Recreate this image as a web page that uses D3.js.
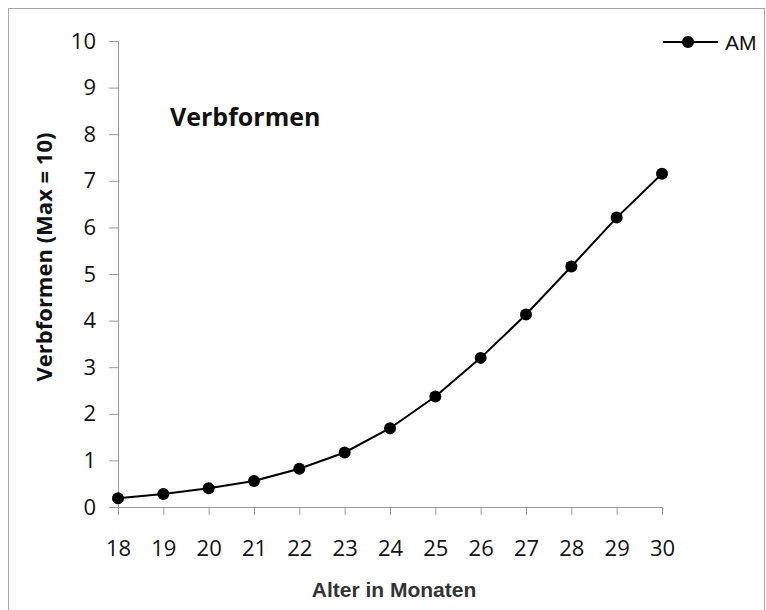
<!DOCTYPE html>
<html>
<head>
<meta charset="utf-8">
<script src="https://cdn.jsdelivr.net/npm/d3@7"></script>
<style>
  body { margin: 0; background: #fff; }
  svg { display: block; }
</style>
</head>
<body>
<svg id="chart" width="766" height="610"></svg>
<script>
const months = [18, 19, 20, 21, 22, 23, 24, 25, 26, 27, 28, 29, 30]
const amValues = [0.19, 0.28, 0.40, 0.56, 0.82, 1.17, 1.69, 2.37, 3.20, 4.13, 5.16, 6.21, 7.15]
const yTicks = [0, 1, 2, 3, 4, 5, 6, 7, 8, 9, 10]
const seriesName = 'AM'

const margin = { left: 118, top: 41, right: 104, bottom: 103 }
const width = 766
const height = 610

const svg = d3.select('#chart')

// outer chart frame
svg.append('rect')
  .attr('x', 8.5).attr('y', 8.5)
  .attr('width', 756).attr('height', 640)
  .attr('fill', 'none')
  .attr('stroke', '#a6a6a6')

const x = d3.scaleLinear()
  .domain([18, 30])
  .range([margin.left, width - margin.right])

const y = d3.scaleLinear()
  .domain([0, 10])
  .range([height - margin.bottom, margin.top])

const yAxis = svg.append('g')
  .attr('transform', `translate(${margin.left},0)`)
  .call(d3.axisLeft(y).tickValues(yTicks).tickSize(9).tickPadding(13))
yAxis.select('.domain').attr('stroke', '#999')
yAxis.selectAll('.tick line').attr('stroke', '#999')
yAxis.selectAll('.tick text')
  .attr('font-family', '"Open Sans", sans-serif')
  .attr('font-size', 22)
  .attr('fill', '#111')

const xAxis = svg.append('g')
  .attr('transform', `translate(0,${y(0)})`)
  .call(d3.axisBottom(x).tickValues(months).tickSize(8).tickSizeOuter(0).tickPadding(25))
xAxis.select('.domain').attr('stroke', '#999')
xAxis.selectAll('.tick line').attr('stroke', '#999')
xAxis.selectAll('.tick text')
  .attr('font-family', '"Open Sans", sans-serif')
  .attr('font-size', 22)
  .attr('fill', '#111')

const line = d3.line()
  .x((d, i) => x(months[i]))
  .y((d) => y(d))

svg.append('path')
  .datum(amValues)
  .attr('d', line)
  .attr('fill', 'none')
  .attr('stroke', '#000')
  .attr('stroke-width', 2)

svg.selectAll('circle.pt')
  .data(amValues)
  .enter()
  .append('circle')
  .attr('class', 'pt')
  .attr('cx', (d, i) => x(months[i]))
  .attr('cy', (d) => y(d))
  .attr('r', 6)
  .attr('fill', '#000')

// titles
svg.append('text')
  .attr('x', 170).attr('y', 126)
  .attr('font-family', '"Open Sans", sans-serif')
  .attr('font-weight', 'bold')
  .attr('font-size', 25)
  .attr('fill', '#111')
  .text('Verbformen')

svg.append('text')
  .attr('transform', 'translate(52,257) rotate(-90)')
  .attr('text-anchor', 'middle')
  .attr('font-family', '"Open Sans", sans-serif')
  .attr('font-weight', 'bold')
  .attr('font-size', 22)
  .attr('fill', '#111')
  .text('Verbformen (Max = 10)')

svg.append('text')
  .attr('x', 394).attr('y', 597)
  .attr('text-anchor', 'middle')
  .attr('font-family', '"Liberation Sans", Arial, sans-serif')
  .attr('font-weight', 'bold')
  .attr('font-size', 21)
  .attr('fill', '#333')
  .text('Alter in Monaten')

// legend
const legend = svg.append('g').attr('transform', 'translate(663,42)')
legend.append('line')
  .attr('x1', 0).attr('x2', 55)
  .attr('stroke', '#000').attr('stroke-width', 2)
legend.append('circle')
  .attr('cx', 25).attr('r', 6).attr('fill', '#000')
legend.append('text')
  .attr('x', 62).attr('y', 8)
  .attr('font-family', '"Liberation Sans", Arial, sans-serif')
  .attr('font-size', 21)
  .attr('fill', '#111')
  .text(seriesName)
</script>
</body>
</html>
